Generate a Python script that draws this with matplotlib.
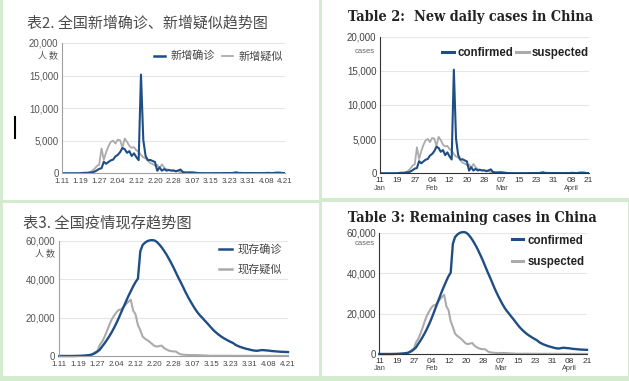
import numpy as np
import matplotlib
matplotlib.use('Agg')
import matplotlib.pyplot as plt
from matplotlib import font_manager
from matplotlib.patches import Rectangle
from matplotlib.lines import Line2D

# daily values, Jan 11 .. Apr 21 on the chart's day axis
new_confirmed = [0, 0, 0, 0, 0, 0, 0, 4, 17, 59,
                 77, 77, 149, 131, 259, 444, 688, 769, 1771, 1459,
                 1737, 1982, 2102, 2590, 2829, 3235, 3887, 3694, 3143, 3399,
                 2656, 3062, 2478, 2015, 15152, 5090, 2641, 2009, 2048, 1886,
                 1749, 394, 889, 397, 648, 409, 508, 406, 433, 327,
                 427, 573, 202, 125, 119, 139, 143, 99, 44, 40,
                 19, 24, 15, 8, 11, 20, 16, 21, 13, 34,
                 39, 41, 46, 39, 80, 150, 60, 54, 45, 31,
                 48, 36, 35, 31, 19, 30, 39, 32, 62, 63,
                 42, 46, 99, 108, 89, 46, 26]
new_suspected = [0] * 13 + [390, 680, 1120, 1310, 3810, 2080, 3250, 4150, 4810, 5020,
                            4560, 5170, 5070, 3970, 5330, 4830, 4210, 3920, 4010, 3540,
                            3340, 2810, 2450, 2280, 1920, 1560, 1430, 1190, 1280, 820,
                            1360, 880, 620, 530, 450, 440, 250, 340, 130, 140,
                            130, 140, 140, 100, 100, 100, 60, 40, 30, 30,
                            30, 20, 40, 40, 45, 45, 55] + \
                [50, 45, 60, 50, 40, 55, 45, 40, 35, 40, 45, 40, 35, 30,
                 35, 40, 45, 50, 60, 55, 50, 45, 40, 50, 60, 55, 45]
remain_confirmed = [0, 0, 0, 0, 0, 0, 0, 50, 60, 120, 200,
                    280, 420, 550, 900, 1500, 2300, 3300, 5000, 6600, 8400,
                    10300, 12400, 14700, 17200, 19900, 22800, 25600, 28400, 31200, 33700,
                    36200, 38500, 40200, 54500, 57800, 59000, 59800, 60200, 60300, 60100,
                    59300, 58000, 56500, 54700, 52800, 50600, 48300, 45900, 43300, 40700,
                    38300, 35800, 33200, 30800, 28600, 26500, 24500, 22700, 21200, 19900,
                    18500, 17200, 15800, 14400, 13100, 12000, 11000, 10100, 9300, 8600,
                    7900, 7300, 6700, 5800, 5200, 4700, 4300, 3900, 3600, 3300,
                    3000, 2800, 2700, 2900, 3100, 3000, 2900, 2800, 2600, 2500,
                    2400, 2300, 2200, 2150, 2100, 2050]
remain_suspected = [0] * 13 + [390, 1070, 1970, 2680, 5790, 7500, 10000, 13000, 16200, 19000,
                               21000, 22800, 24000, 24300, 25600, 27000, 28200, 29300,
                               23600, 21700,
                               16100, 13400, 10100, 9000, 8200, 7300, 6200, 5200, 4900, 5200,
                               5400, 4100, 3400, 2800, 2500, 2400, 2300, 1400, 850, 700,
                               590, 520, 520, 480, 500, 460, 420, 350, 290, 250,
                               150, 120, 130, 140, 150, 160, 150, 140, 130, 120] + \
                   [120, 110, 100, 110, 100, 90, 100, 90, 80, 90, 80, 70,
                    80, 70, 60, 70, 60, 60, 50, 60, 50, 50, 40, 40]

cn_ticks = ['1.11', '1.19', '1.27', '2.04', '2.12', '2.20', '2.28',
            '3.07', '3.15', '3.23', '3.31', '4.08', '4.21']
en_ticks = ['11', '19', '27', '04', '12', '20', '28', '07', '15', '23', '31', '08', '21']
en_months = {0: 'Jan', 3: 'Feb', 7: 'Mar', 11: 'April'}

days = np.arange(len(new_confirmed))
tick_pos = days[::8]

W, H = 629, 381
BLUE = '#1f4e84'
GREY = '#ababab'
GREEN = '#d5ebd0'

CJK = 'Noto Sans CJK SC'
NUM = 'Liberation Sans'

# slab-ish bold title: condensed DejaVu Serif if installed, else the normal one smaller
cond = any(f.name == 'DejaVu Serif' and f.stretch == 'condensed'
           for f in font_manager.fontManager.ttflist)
TITLE = dict(family='DejaVu Serif', weight='bold', color='#222',
             stretch='condensed' if cond else 'normal', size=10.4 if cond else 9.1)


def box(l, t, r, b):
    return [l / W, 1 - b / H, (r - l) / W, (b - t) / H]


def fy(y):
    return 1 - y / H


fig = plt.figure(figsize=(W / 100, H / 100), dpi=100)
fig.patch.set_facecolor(GREEN)
for l, t, r, b in [(3, 0, 319, 200), (322, 0, 629, 198), (3, 203, 319, 376), (322, 202, 628, 376)]:
    fig.add_artist(Rectangle((l / W, 1 - b / H), (r - l) / W, (b - t) / H,
                             transform=fig.transFigure, facecolor='white',
                             edgecolor='none', zorder=-5))


def base(ax, ymax, step, spine_col):
    ax.set_facecolor('none')
    ax.set_xlim(0, days[-1])
    ax.set_ylim(0, ymax)
    ticks = list(range(0, ymax + 1, step))
    ax.set_yticks(ticks)
    ax.set_yticklabels(['0' if t == 0 else f'{t:,}' for t in ticks], family=NUM)
    for t in ticks[1:]:
        ax.axhline(t, color='#e6e6e6', lw=0.8, zorder=0)
    ax.spines[['top', 'right']].set_visible(False)
    ax.spines['left'].set_color(spine_col)
    ax.spines['bottom'].set_color(spine_col)
    ax.set_xticks(tick_pos)
    ax.tick_params(length=0)


# ---- top left: 新增
ax1 = fig.add_axes(box(62, 43, 285, 173.3))
base(ax1, 20000, 5000, '#a0a0a0')
ax1.plot(days, new_suspected, color=GREY, lw=1.3)
ax1.plot(days, new_confirmed, color=BLUE, lw=1.5)
ax1.set_xticklabels(cn_ticks, family=NUM, size=5.8, color='#444')
ax1.tick_params(axis='y', labelsize=7, labelcolor='#555', pad=2.5)
ax1.tick_params(axis='x', pad=3.5)
ax1.text(-0.018, 0.905, '人 数', transform=ax1.transAxes, ha='right', va='center',
         family=CJK, size=6.5, color='#555')
ax1.legend(handles=[Line2D([], [], color=BLUE, lw=1.8), Line2D([], [], color=GREY, lw=1.3)],
           labels=['新增确诊', '新增疑似'], ncol=2, loc='center right',
           bbox_to_anchor=(0.99, 0.90), frameon=False, prop={'family': CJK, 'size': 8},
           handlelength=1.0, handletextpad=0.5, columnspacing=0.6, borderpad=0,
           borderaxespad=0, labelcolor='#444')
fig.text(27 / W, fy(23), '表2. 全国新增确诊、新增疑似趋势图', family=CJK, size=10.8,
         color='#4a4a4a', va='center', ha='left')
fig.add_artist(Line2D([15 / W, 15 / W], [fy(117), fy(138)], color='black', lw=1.5,
                      transform=fig.transFigure))

# ---- top right: new daily cases
ax2 = fig.add_axes(box(380, 36.5, 588.5, 173.3))
base(ax2, 20000, 5000, '#333333')
ax2.plot(days, new_suspected, color=GREY, lw=1.3)
ax2.plot(days, new_confirmed, color=BLUE, lw=1.5)
ax2.set_xticklabels(en_ticks, family=NUM, size=6, color='#333')
ax2.tick_params(axis='x', pad=2.6)
ax2.tick_params(axis='y', labelsize=7, labelcolor='#444', pad=2.5)
for i, m in en_months.items():
    ax2.text(tick_pos[i], -0.108, m, transform=ax2.get_xaxis_transform(), ha='center',
             va='center', family=NUM, size=5.3, color='#444')
ax2.text(-0.024, 0.893, 'cases', transform=ax2.transAxes, ha='right', va='center',
         family=NUM, size=5.5, color='#666')
ax2.legend(handles=[Line2D([], [], color=BLUE, lw=2.2), Line2D([], [], color=GREY, lw=2.2)],
           labels=['confirmed', 'suspected'], ncol=2, loc='center right',
           bbox_to_anchor=(1.0, 0.88), frameon=False,
           prop={'family': NUM, 'size': 8.3, 'weight': 'bold'},
           handlelength=1.1, handletextpad=0.25, columnspacing=0.25, borderpad=0,
           borderaxespad=0, labelcolor='#222')
fig.text(348 / W, fy(16.7), 'Table 2:  New daily cases in China', va='center',
         ha='left', **TITLE)

# ---- bottom left: 现存
ax3 = fig.add_axes(box(59.3, 240.7, 288, 356))
base(ax3, 60000, 20000, '#a0a0a0')
ax3.plot(days, remain_suspected, color=GREY, lw=1.5, clip_on=False)
ax3.plot(days, remain_confirmed, color=BLUE, lw=1.7, clip_on=False)
ax3.set_xticklabels(cn_ticks, family=NUM, size=5.8, color='#444')
ax3.tick_params(axis='y', labelsize=7, labelcolor='#555', pad=3)
ax3.tick_params(axis='x', pad=3.8)
ax3.text(-0.018, 0.89, '人 数', transform=ax3.transAxes, ha='right', va='center',
         family=CJK, size=6.5, color='#555')
ax3.legend(handles=[Line2D([], [], color=BLUE, lw=1.8), Line2D([], [], color=GREY, lw=1.8)],
           labels=['现存确诊', '现存疑似'], loc='upper left', bbox_to_anchor=(0.70, 0.975),
           frameon=False, prop={'family': CJK, 'size': 8}, handlelength=1.1,
           handletextpad=0.5, labelspacing=0.85, borderpad=0, borderaxespad=0,
           labelcolor='#444')
fig.text(23 / W, fy(223), '表3. 全国疫情现存趋势图', family=CJK, size=11,
         color='#4a4a4a', va='center', ha='left')

# ---- bottom right: remaining cases
ax4 = fig.add_axes(box(379.3, 232.7, 587, 354))
base(ax4, 60000, 20000, '#333333')
ax4.plot(days, remain_suspected, color=GREY, lw=1.5, clip_on=False)
ax4.plot(days, remain_confirmed, color=BLUE, lw=1.7, clip_on=False)
ax4.set_xticklabels(en_ticks, family=NUM, size=6, color='#333')
ax4.tick_params(axis='x', pad=2.6)
ax4.tick_params(axis='y', labelsize=7, labelcolor='#444', pad=2.5)
for i, m in en_months.items():
    ax4.text(tick_pos[i], -0.118, m, transform=ax4.get_xaxis_transform(), ha='center',
             va='center', family=NUM, size=5.3, color='#444')
ax4.text(-0.024, 0.91, 'cases', transform=ax4.transAxes, ha='right', va='center',
         family=NUM, size=5.5, color='#666')
ax4.legend(handles=[Line2D([], [], color=BLUE, lw=2.2), Line2D([], [], color=GREY, lw=2.2)],
           labels=['confirmed', 'suspected'], loc='upper left', bbox_to_anchor=(0.64, 0.985),
           frameon=False, prop={'family': NUM, 'size': 8.3, 'weight': 'bold'},
           handlelength=0.9, handletextpad=0.4, labelspacing=0.85, borderpad=0,
           borderaxespad=0, labelcolor='#222')
fig.text(348 / W, fy(218), 'Table 3: Remaining cases in China', va='center',
         ha='left', **TITLE)

fig.savefig('out.png', dpi=100, facecolor=fig.get_facecolor())
